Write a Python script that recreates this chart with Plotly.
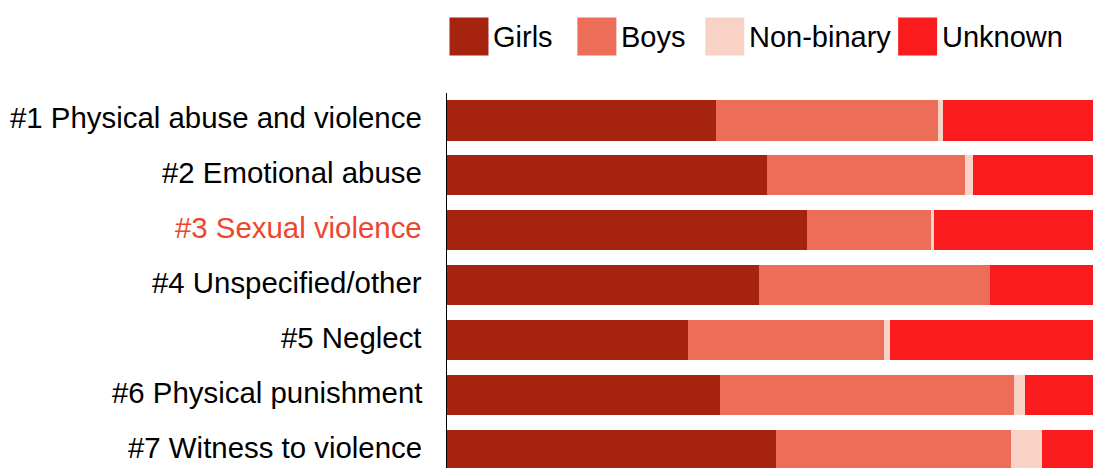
import plotly.graph_objects as go

categories = [
    "#1 Physical abuse and violence",
    "#2 Emotional abuse",
    "#3 Sexual violence",
    "#4 Unspecified/other",
    "#5 Neglect",
    "#6 Physical punishment",
    "#7 Witness to violence",
]
girls = [41.4, 49.3, 55.4, 48.1, 37.1, 42.1, 50.7]
boys = [34.2, 30.5, 19.3, 35.6, 30.3, 45.3, 36.2]
non_binary = [0.8, 1.3, 0.3, 0.0, 0.9, 1.6, 4.8]
unknown = [23.6, 18.9, 25.0, 16.3, 31.7, 11.0, 8.3]

series = [
    ("Girls", girls, "#A62310"),
    ("Boys", boys, "#ED6E58"),
    ("Non-binary", non_binary, "#F8D2C4"),
    ("Unknown", unknown, "#FA1B1D"),
]
highlight = "#3 Sexual violence"

FONT = "Liberation Sans, Arial, sans-serif"

# page body adds an 8px offset, so the figure is laid out in page coords minus 8
OFF = 8
W, H = 1101 - OFF, 468 - OFF
PLOT_L, PLOT_R, PLOT_T = 446.5, 1096, 92.5
plot_w = PLOT_R - PLOT_L
plot_h = 468 - PLOT_T


def px(x):
    return (x - PLOT_L) / plot_w


def py(y):
    return (468 - y) / plot_h


fig = go.Figure()
for name, vals, color in series:
    fig.add_trace(go.Bar(
        y=categories, x=vals, name=name, orientation="h",
        marker=dict(color=color, line=dict(width=0)),
        showlegend=False,
    ))

# category labels, nudged slightly above bar centres as in the reference
for c in categories:
    fig.add_annotation(
        xref="paper", yref="y", x=px(422), y=c, text=c,
        showarrow=False, xanchor="right", yanchor="middle", yshift=3,
        borderpad=0,
        font=dict(size=29.4, family=FONT,
                  color="#EE462D" if c == highlight else "black"),
    )

# manual legend with large swatches
legend_x = [449, 577, 705, 898]
for (name, vals, color), lx in zip(series, legend_x):
    fig.add_shape(type="rect", xref="paper", yref="paper",
                  x0=px(lx), x1=px(lx + 39), y0=py(55), y1=py(17),
                  line=dict(width=0), fillcolor=color)
    fig.add_annotation(xref="paper", yref="paper",
                       x=px(lx + 42), y=py(36),
                       text=name, showarrow=False, xanchor="left",
                       yanchor="middle",
                       font=dict(size=29, color="black", family=FONT))

fig.update_layout(
    barmode="stack",
    bargap=0.27,
    width=W, height=H,
    margin=dict(l=PLOT_L - OFF, r=1101 - PLOT_R, t=PLOT_T - OFF, b=0, pad=0),
    plot_bgcolor="white", paper_bgcolor="white",
    font=dict(family=FONT, size=29, color="black"),
    xaxis=dict(range=[0, 100], visible=False, fixedrange=True),
    yaxis=dict(
        type="category",
        range=[6.327, -0.5],
        showticklabels=False,
        showline=True, linecolor="black", linewidth=1,
        showgrid=False, ticks="",
    ),
)

fig.write_html("out.html")
